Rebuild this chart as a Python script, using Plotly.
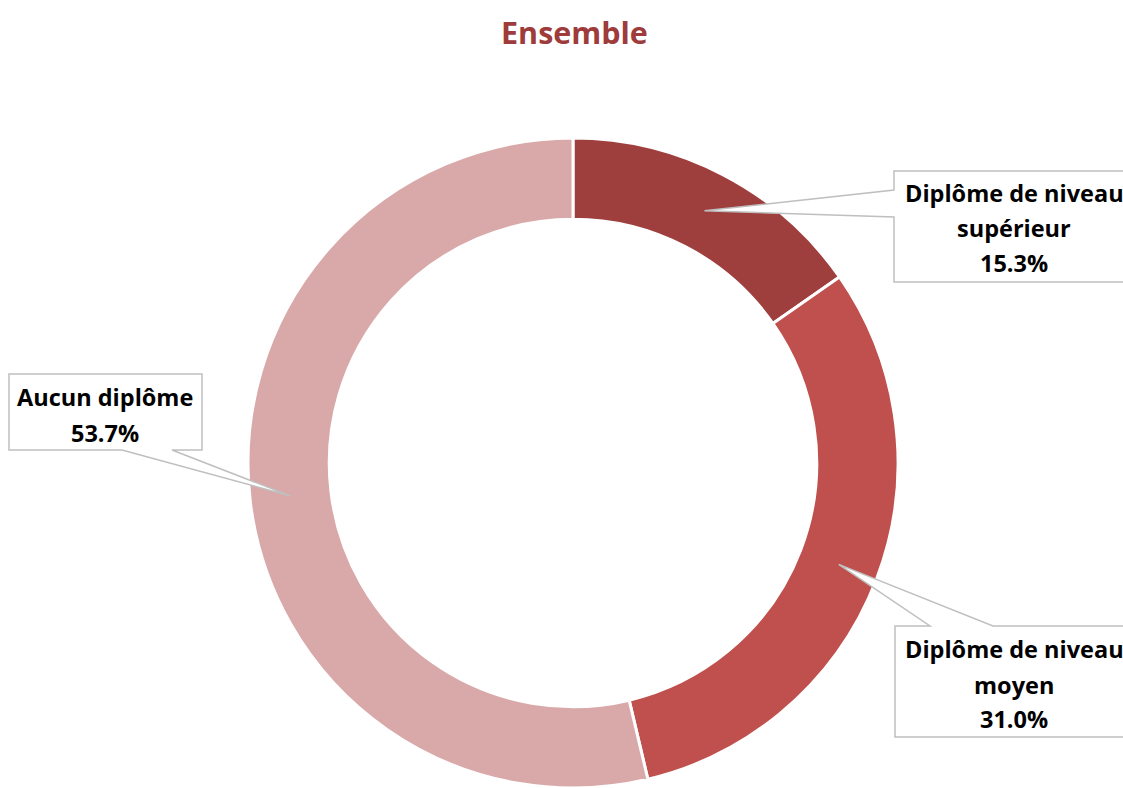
import math
import plotly.graph_objects as go

labels = ["Diplôme de niveau supérieur", "Diplôme de niveau moyen", "Aucun diplôme"]
label_lines = [["Diplôme de niveau", "supérieur"], ["Diplôme de niveau", "moyen"], ["Aucun diplôme"]]
values = [15.3, 31.0, 53.7]
colors = ["#9E3F3E", "#C0504D", "#D9A9A9"]

W, H = 1123, 788
CX, CY, R = 573, 463, 325
HOLE = 0.75
LABEL_FONT = "Open Sans"
LABEL_SIZE = 23.5

def px(x):
    return x / W

def py(y):
    return 1 - y / H

fig = go.Figure()
fig.add_trace(go.Pie(
    labels=labels, values=values, sort=False, direction="clockwise", rotation=0,
    hole=HOLE, marker=dict(colors=colors, line=dict(color="white", width=3)),
    textinfo="none", hoverinfo="label+percent", showlegend=False,
    domain=dict(x=[px(CX - R), px(CX + R)], y=[max(0, py(CY + R)), py(CY - R)]),
))

# anchor points from data (middle of each slice, middle of the ring)
total = sum(values)
anchors = []
cum = 0
rmid = R * (1 + HOLE) / 2
for v in values:
    a = (cum + v / 2) / total * 2 * math.pi
    anchors.append((CX + rmid * math.sin(a), CY - rmid * math.cos(a)))
    cum += v

boxes = [
    dict(box=(894, 171, 1126, 282), side="left", gap=(190, 217), rows=[193, 228, 263], xc=1014),
    dict(box=(895, 626, 1126, 737), side="top", gap=(930, 993), rows=[649, 685, 719], xc=1014),
    dict(box=(9, 374, 202, 450), side="bottom", gap=(122, 172), rows=[397, 433], xc=105),
]

shapes = []
annotations = []
for i, b in enumerate(boxes):
    l, t, r, bt = b["box"]
    ax, ay = anchors[i]
    g1, g2 = b["gap"]
    if b["side"] == "left":
        pts = [(ax, ay), (l, g2), (l, bt), (r, bt), (r, t), (l, t), (l, g1)]
    elif b["side"] == "top":
        pts = [(ax, ay), (g2, t), (r, t), (r, bt), (l, bt), (l, t), (g1, t)]
    else:
        pts = [(ax, ay), (g1, bt), (l, bt), (l, t), (r, t), (r, bt), (g2, bt)]
    path = "M " + " L ".join(f"{px(x):.5f},{py(y):.5f}" for x, y in pts) + " Z"
    shapes.append(dict(type="path", path=path, xref="paper", yref="paper",
                       fillcolor="white", line=dict(color="#BFBFBF", width=1.5), layer="above"))
    lines = label_lines[i] + [f"{values[i]:.1f}%"]
    for txt, yrow in zip(lines, b["rows"]):
        annotations.append(dict(text=f"<b>{txt}</b>", x=px(b["xc"]), y=py(yrow), xref="paper", yref="paper",
                                showarrow=False, xanchor="center", yanchor="middle",
                                font=dict(family=LABEL_FONT, size=LABEL_SIZE, color="black")))

annotations.append(dict(text="<b>Ensemble</b>", x=px(574), y=py(32), xref="paper", yref="paper",
                        showarrow=False, xanchor="center", yanchor="middle",
                        font=dict(family=LABEL_FONT, size=30.5, color="#9E3B3B")))

fig.update_layout(width=W, height=H, margin=dict(l=0, r=0, t=0, b=0),
                  paper_bgcolor="white", plot_bgcolor="white",
                  shapes=shapes, annotations=annotations)
fig.write_html("out.html", config={"displayModeBar": False},
               post_script="document.body.style.margin='0';document.body.style.overflow='hidden';")
